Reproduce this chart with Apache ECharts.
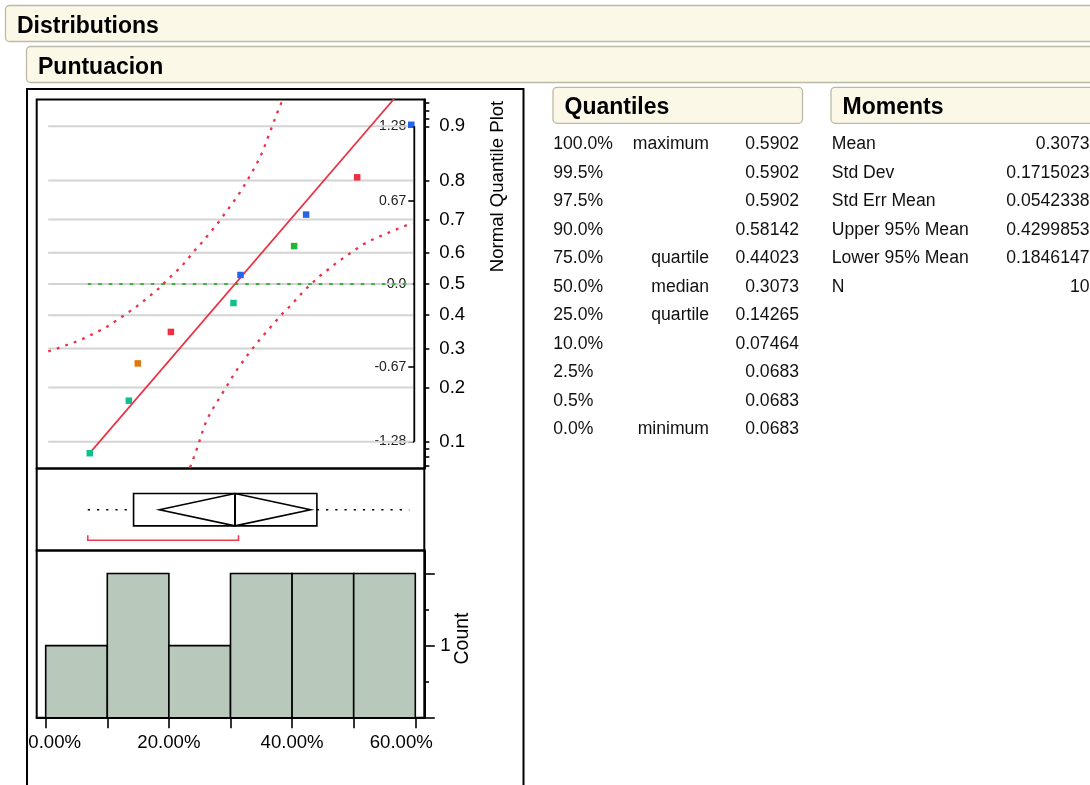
<!DOCTYPE html>
<html>
<head>
<meta charset="utf-8">
<title>Distributions - Puntuacion</title>
<script src="https://cdn.jsdelivr.net/npm/echarts@6/dist/echarts.min.js"></script>
<style>
  html, body { margin: 0; padding: 0; background: #ffffff; }
  #chart { width: 1090px; height: 785px; }
</style>
</head>
<body>
<div id="chart"></div>
<script>
// ---------------- data ----------------
// Puntuacion scores, sorted ascending (N = 10)
const puntuacion = [0.0683, 0.1317, 0.1463, 0.2000, 0.3016, 0.3130, 0.4000, 0.4195, 0.5024, 0.5902];
// normal scores for rank / (N + 1)
const normalScores = [-1.335, -0.908, -0.605, -0.349, -0.114, 0.114, 0.349, 0.605, 0.908, 1.335];
// row marker colours
const rowColors = ['#10c08c', '#10c08c', '#e2760a', '#ec2f43', '#10c08c',
                   '#2264ea', '#22b636', '#2264ea', '#ec2f43', '#2264ea'];

// probability scale of the normal quantile plot
const probLabels = ['0.1', '0.2', '0.3', '0.4', '0.5', '0.6', '0.7', '0.8', '0.9'];
const probZ = [-1.2816, -0.8416, -0.5244, -0.2533, 0, 0.2533, 0.5244, 0.8416, 1.2816];
const probMinorZ = [-1.4758, -1.4051, -1.3408, 1.3408, 1.4051, 1.4758];
// normal quantile ticks
const normalTickZ = [-1.2816, -0.6745, 0, 0.6745, 1.2816];
const normalTickLabels = ['-1.28', '-0.67', '0.0', '0.67', '1.28'];

// Lilliefors confidence bounds: [value, normal score]
const bandUpper = [
  [0.0042, -0.548], [0.0205, -0.521], [0.0367, -0.491], [0.0536, -0.461], [0.0687, -0.426],
  [0.0844, -0.388], [0.0995, -0.347], [0.1141, -0.299], [0.1287, -0.250], [0.1429, -0.201],
  [0.1563, -0.148], [0.1705, -0.091], [0.1834, -0.037], [0.1953, 0.023], [0.2078, 0.083],
  [0.2208, 0.144], [0.2315, 0.209], [0.2429, 0.278], [0.2549, 0.345], [0.2656, 0.410],
  [0.2769, 0.477], [0.2873, 0.548], [0.2971, 0.615], [0.3073, 0.686], [0.3154, 0.745],
  [0.3247, 0.821], [0.3333, 0.894], [0.3425, 0.976], [0.3516, 1.070], [0.3588, 1.165],
  [0.3669, 1.273], [0.3750, 1.381], [0.3831, 1.481]
];
const bandLower = [
  [0.2343, -1.492], [0.2403, -1.411], [0.2461, -1.330], [0.2516, -1.248], [0.2565, -1.167],
  [0.2635, -1.086], [0.2721, -1.008], [0.2813, -0.932], [0.2906, -0.859], [0.2997, -0.783],
  [0.3078, -0.716], [0.3175, -0.648], [0.3284, -0.572], [0.3386, -0.507], [0.3500, -0.437],
  [0.3614, -0.372], [0.3727, -0.307], [0.3841, -0.242], [0.3966, -0.180], [0.4084, -0.115],
  [0.4209, -0.047], [0.4334, 0.011], [0.4458, 0.069], [0.4599, 0.123], [0.4734, 0.177],
  [0.4875, 0.226], [0.5010, 0.274], [0.5156, 0.323], [0.5318, 0.364], [0.5481, 0.399],
  [0.5643, 0.434], [0.5805, 0.467], [0.5958, 0.497]
];

// histogram bins
const binEdges = [0, 0.1, 0.2, 0.3, 0.4, 0.5, 0.6];
const binCounts = [1, 2, 1, 2, 2, 2];
const xTickValues = [0, 0.1, 0.2, 0.3, 0.4, 0.5, 0.6];
const xLabelValues = [0, 0.2, 0.4, 0.6];
const countMajorTicks = [0, 1, 2];
const countMinorTicks = [0.5, 1.5];
const countLabelValues = [1];

// shortest half
const shortestHalf = [0.0683, 0.3130];

// Quantiles table
const quantileLevels = ['100.0%', '99.5%', '97.5%', '90.0%', '75.0%', '50.0%', '25.0%', '10.0%', '2.5%', '0.5%', '0.0%'];
const quantileNames = ['maximum', '', '', '', 'quartile', 'median', 'quartile', '', '', '', 'minimum'];
const quantileValues = ['0.5902', '0.5902', '0.5902', '0.58142', '0.44023', '0.3073', '0.14265', '0.07464', '0.0683', '0.0683', '0.0683'];

// Moments table
const momentNames = ['Mean', 'Std Dev', 'Std Err Mean', 'Upper 95% Mean', 'Lower 95% Mean', 'N'];
const momentValues = ['0.3073', '0.1715023', '0.0542338', '0.4299853', '0.1846147', '10'];

// ---------------- derived summary values ----------------
const qMax = +quantileValues[0];
const q3 = +quantileValues[4];
const qMedian = +quantileValues[5];
const q1 = +quantileValues[6];
const qMin = +quantileValues[10];
const mean = +momentValues[0];
const sd = +momentValues[1];
const upperMean = +momentValues[3];
const lowerMean = +momentValues[4];

// ---------------- layout ----------------
const FONT = "'Liberation Sans', Arial, Helvetica, sans-serif";
const PLOT_LEFT = 36.7;
const PLOT_WIDTH = 387.6;
const X_MIN = -0.0146, X_MAX = 0.6146;
const Z_MIN = -1.5, Z_MAX = 1.5;
const GRID_X_FROM = 0.004, GRID_X_TO = 0.596;   // reach of the horizontal reference lines
const QQ = { top: 99.5, height: 369 };
const BOX = { top: 468.5, height: 82 };
const HIST = { top: 550.5, height: 167.2 };
const BOX_Y = { bottom: 0.30, top: 0.695, mid: 0.4975, bracket: 0.125, bracketEnd: 0.185 };
const ROW0 = 144.5, ROW_STEP = 28.5;
const FRAME_W = 2;

function gridBox(g) {
  return { left: PLOT_LEFT, top: g.top, width: PLOT_WIDTH, height: g.height,
           show: true, borderColor: '#000', borderWidth: FRAME_W, backgroundColor: 'transparent' };
}

function nearestLabel(values, labels, v) {
  let best = 0;
  for (let i = 1; i < values.length; i++) {
    if (Math.abs(values[i] - v) < Math.abs(values[best] - v)) best = i;
  }
  return labels[best];
}

// ---------------- static page elements (headers, tables) ----------------
function headerBox(x, y, w, label) {
  return [
    { type: 'rect', shape: { x: x, y: y, width: w, height: 36, r: 4 },
      style: { fill: '#fbf8e8', stroke: '#bdb9a7', lineWidth: 1.3 }, z: 1 },
    { type: 'text', x: x + 11.5, y: y + 20.8,
      style: { text: label, fontFamily: FONT, fontSize: 23, fontWeight: 'bold', fill: '#000',
               textAlign: 'left', textVerticalAlign: 'middle' }, z: 2 }
  ];
}

function tableText(x, y, text, align) {
  return { type: 'text', x: x, y: y,
    style: { text: text, fontFamily: FONT, fontSize: 17.6, fill: '#111',
             textAlign: align, textVerticalAlign: 'middle' }, z: 2 };
}

const graphics = [];
graphics.push(...headerBox(5.5, 5.5, 1110, 'Distributions'));
graphics.push(...headerBox(26.5, 46.5, 1090, 'Puntuacion'));
graphics.push(...headerBox(553, 87.3, 249.5, 'Quantiles'));
graphics.push(...headerBox(831, 87.3, 300, 'Moments'));

// outer frame round the three plots
graphics.push({ type: 'rect', shape: { x: 27, y: 89, width: 496.5, height: 720 },
  style: { fill: 'none', stroke: '#000', lineWidth: FRAME_W }, z: 1 });

quantileLevels.forEach((lev, i) => {
  const y = ROW0 + ROW_STEP * i;
  graphics.push(tableText(553.3, y, lev, 'left'));
  if (quantileNames[i]) graphics.push(tableText(709, y, quantileNames[i], 'right'));
  graphics.push(tableText(799, y, quantileValues[i], 'right'));
});
momentNames.forEach((name, i) => {
  const y = ROW0 + ROW_STEP * i;
  graphics.push(tableText(831.8, y, name, 'left'));
  graphics.push(tableText(1089.5, y, momentValues[i], 'right'));
});

// axis titles
graphics.push({ type: 'text', x: 498, y: 186.5, rotation: Math.PI / 2,
  style: { text: 'Normal Quantile Plot', fontFamily: FONT, fontSize: 18.6, fill: '#000',
           textAlign: 'center', textVerticalAlign: 'middle' }, z: 2 });
graphics.push({ type: 'text', x: 462.5, y: 638.5, rotation: Math.PI / 2,
  style: { text: 'Count', fontFamily: FONT, fontSize: 19.5, fill: '#000',
           textAlign: 'center', textVerticalAlign: 'middle' }, z: 2 });

// ---------------- chart ----------------
const chart = echarts.init(document.getElementById('chart'), null, { renderer: 'canvas' });

const hiddenX = (gi) => ({ type: 'value', gridIndex: gi, min: X_MIN, max: X_MAX, show: false });

const option = {
  animation: false,
  backgroundColor: '#ffffff',
  grid: [gridBox(QQ), gridBox(BOX), gridBox(HIST)],
  xAxis: [
    hiddenX(0),
    hiddenX(1),
    {
      type: 'value', gridIndex: 2, min: X_MIN, max: X_MAX,
      axisLine: { show: true, onZero: false, lineStyle: { color: '#000', width: FRAME_W } },
      axisTick: { show: true, customValues: xTickValues, length: 10.5,
                  lineStyle: { color: '#000', width: 1.6 } },
      splitLine: { show: false },
      axisLabel: {
        customValues: xLabelValues, margin: 16,
        formatter: (v) => {
          const s = (v * 100).toFixed(2) + '%';
          if (Math.abs(v) < 1e-9) return '{first|' + s + '}';
          if (Math.abs(v - 0.6) < 1e-9) return '{last|' + s + '}';
          return '{mid|' + s + '}';
        },
        rich: {
          first: { fontFamily: FONT, fontSize: 18.6, color: '#000', padding: [0, 0, 0, 18] },
          mid: { fontFamily: FONT, fontSize: 18.6, color: '#000' },
          last: { fontFamily: FONT, fontSize: 18.6, color: '#000', padding: [0, 28, 0, 0] }
        }
      }
    }
  ],
  yAxis: [
    { // probability scale
      type: 'value', gridIndex: 0, position: 'right', min: Z_MIN, max: Z_MAX,
      axisLine: { show: true, onZero: false, lineStyle: { color: '#000', width: FRAME_W } },
      axisTick: { show: true, customValues: probZ.concat(probMinorZ), length: 5,
                  lineStyle: { color: '#000', width: 1.6 } },
      splitLine: { show: false },
      axisLabel: { customValues: probZ, margin: 15, fontFamily: FONT, fontSize: 18.6, color: '#000',
                   formatter: (v) => nearestLabel(probZ, probLabels, v) }
    },
    { // normal quantile scale
      type: 'value', gridIndex: 0, position: 'right', offset: -10, min: Z_MIN, max: Z_MAX,
      axisLine: { show: false, onZero: false },
      axisTick: { show: true, inside: true, customValues: normalTickZ, length: 6,
                  lineStyle: { color: '#000', width: 1.6 } },
      splitLine: { show: false },
      axisLabel: { inside: true, customValues: normalTickZ, margin: 8, fontFamily: FONT,
                   fontSize: 14, color: '#222',
                   formatter: (v) => nearestLabel(normalTickZ, normalTickLabels, v) }
    },
    { type: 'value', gridIndex: 1, min: 0, max: 1, show: false, axisLine: { onZero: false } },
    { // counts
      type: 'value', gridIndex: 2, position: 'right', min: 0, max: 2.32,
      axisLine: { show: true, onZero: false, lineStyle: { color: '#000', width: FRAME_W } },
      axisTick: { show: true, customValues: countMajorTicks, length: 10.5,
                  lineStyle: { color: '#000', width: 1.6 } },
      splitLine: { show: false },
      axisLabel: { customValues: countLabelValues, margin: 16, fontFamily: FONT,
                   fontSize: 18.6, color: '#000' }
    },
    { // minor count ticks
      type: 'value', gridIndex: 2, position: 'right', min: 0, max: 2.32,
      axisLine: { show: false, onZero: false },
      axisTick: { show: true, customValues: countMinorTicks, length: 4.7,
                  lineStyle: { color: '#000', width: 1.6 } },
      splitLine: { show: false },
      axisLabel: { show: false }
    }
  ],
  series: [
    { // horizontal reference lines at the probability ticks
      type: 'custom', xAxisIndex: 0, yAxisIndex: 0, z: 1, silent: true,
      data: probZ.map((z) => [GRID_X_FROM, z]),
      renderItem: (params, api) => {
        const a = api.coord([GRID_X_FROM, api.value(1)]);
        const b = api.coord([GRID_X_TO, api.value(1)]);
        return { type: 'line', shape: { x1: a[0], y1: a[1], x2: b[0], y2: b[1] },
                 style: { stroke: '#d3d3d3', lineWidth: 2 } };
      }
    },
    { // reference at the centre of the normal scale
      type: 'line', xAxisIndex: 0, yAxisIndex: 0, z: 2, silent: true, symbol: 'none',
      data: [[qMin, 0], [qMax, 0]],
      lineStyle: { color: '#36b636', width: 2.2, type: [3.5, 7] }
    },
    { // confidence bound
      type: 'line', xAxisIndex: 0, yAxisIndex: 0, z: 3, silent: true, symbol: 'none',
      data: bandUpper, lineStyle: { color: '#ec3049', width: 2.3, type: [2.8, 6.2] }
    },
    { // confidence bound
      type: 'line', xAxisIndex: 0, yAxisIndex: 0, z: 3, silent: true, symbol: 'none',
      data: bandLower, lineStyle: { color: '#ec3049', width: 2.3, type: [2.8, 6.2] }
    },
    { // normal fit: z = (x - mean) / sd
      type: 'line', xAxisIndex: 0, yAxisIndex: 0, z: 4, silent: true, symbol: 'none', clip: true,
      data: [[qMin, (qMin - mean) / sd], [qMax, (qMax - mean) / sd]],
      lineStyle: { color: '#ec3145', width: 1.7 }
    },
    { // observations
      type: 'scatter', xAxisIndex: 0, yAxisIndex: 0, z: 5, symbol: 'rect', symbolSize: 6.5,
      symbolOffset: [2, 5],
      data: puntuacion.map((v, i) => ({ value: [v, normalScores[i]], itemStyle: { color: rowColors[i], opacity: 1 } }))
    },
    { // outlier box plot with mean diamond and shortest half
      type: 'custom', xAxisIndex: 1, yAxisIndex: 2, z: 3, silent: true,
      data: [[qMin, q1, qMedian, q3, qMax, lowerMean, mean, upperMean, shortestHalf[0], shortestHalf[1]]],
      renderItem: (params, api) => {
        const v = (i) => api.value(i);
        const P = (x, y) => api.coord([x, y]);
        const ink = { stroke: '#000', lineWidth: 1.6, fill: 'none' };
        const dotted = { stroke: '#000', lineWidth: 1.6, lineDash: [2.2, 7] };
        const wl0 = P(v(0), BOX_Y.mid), wl1 = P(v(1), BOX_Y.mid);
        const wr0 = P(v(3), BOX_Y.mid), wr1 = P(v(4), BOX_Y.mid);
        const bTop = P(v(1), BOX_Y.top), bBot = P(v(3), BOX_Y.bottom);
        const mTop = P(v(2), BOX_Y.top), mBot = P(v(2), BOX_Y.bottom);
        const dL = P(v(5), BOX_Y.mid), dT = P(v(6), BOX_Y.top), dR = P(v(7), BOX_Y.mid), dB = P(v(6), BOX_Y.bottom);
        const s0 = P(v(8), BOX_Y.bracketEnd), s1 = P(v(8), BOX_Y.bracket);
        const s2 = P(v(9), BOX_Y.bracket), s3 = P(v(9), BOX_Y.bracketEnd);
        return {
          type: 'group',
          children: [
            { type: 'line', shape: { x1: wl0[0], y1: wl0[1], x2: wl1[0], y2: wl1[1] }, style: dotted },
            { type: 'line', shape: { x1: wr0[0], y1: wr0[1], x2: wr1[0], y2: wr1[1] }, style: dotted },
            { type: 'rect', shape: { x: bTop[0], y: bTop[1], width: bBot[0] - bTop[0], height: bBot[1] - bTop[1] },
              style: Object.assign({}, ink, { fill: '#fff' }) },
            { type: 'polygon', shape: { points: [dL, dT, dR, dB] }, style: ink },
            { type: 'line', shape: { x1: mTop[0], y1: mTop[1], x2: mBot[0], y2: mBot[1] },
              style: { stroke: '#000', lineWidth: 2 } },
            { type: 'polyline', shape: { points: [s0, s1, s2, s3] },
              style: { stroke: '#ee3a50', lineWidth: 1.6, fill: 'none' } }
          ]
        };
      }
    },
    { // histogram
      type: 'custom', xAxisIndex: 2, yAxisIndex: 3, z: 3, silent: true,
      data: binCounts.map((c, i) => [binEdges[i], binEdges[i + 1], c]),
      renderItem: (params, api) => {
        const a = api.coord([api.value(0), api.value(2)]);
        const b = api.coord([api.value(1), 0]);
        return { type: 'rect', shape: { x: a[0], y: a[1], width: b[0] - a[0], height: b[1] - a[1] },
                 style: { fill: '#b8c9bb', stroke: '#000', lineWidth: 1.6 } };
      }
    }
  ],
  graphic: { elements: graphics }
};

chart.setOption(option);

// vertical rule of the normal quantile scale, spanning its outermost ticks
const zTop = chart.convertToPixel({ yAxisIndex: 1 }, normalTickZ[normalTickZ.length - 1]);
const zBot = chart.convertToPixel({ yAxisIndex: 1 }, normalTickZ[0]);
const ruleX = PLOT_LEFT + PLOT_WIDTH - 10;
chart.setOption({
  graphic: {
    elements: graphics.concat([{
      type: 'line', shape: { x1: ruleX, y1: zTop, x2: ruleX, y2: zBot },
      style: { stroke: '#000', lineWidth: 1.8 }, z: 10
    }])
  }
});
</script>
</body>
</html>
